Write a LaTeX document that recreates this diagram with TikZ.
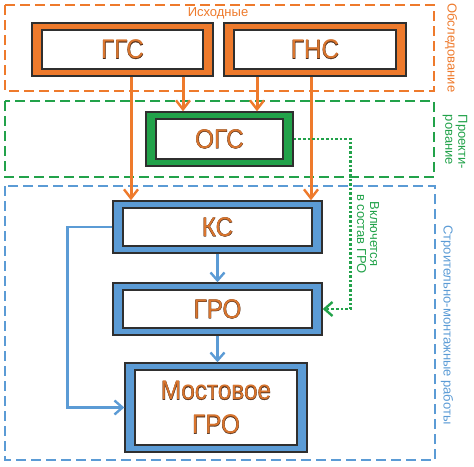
\documentclass[tikz,border=0pt]{standalone}
\usepackage{fontspec}
\setmainfont{Liberation Sans}
\newfontfamily\bxfont[FakeStretch=0.9]{Liberation Sans}
\newfontfamily\bxfontO[FakeStretch=0.9,FakeBold=1.2]{Liberation Sans}
\usetikzlibrary{arrows.meta,calc}
\definecolor{orng}{HTML}{EE7A2C}
\definecolor{grn}{HTML}{22A24A}
\definecolor{blu}{HTML}{5B9BD5}
\definecolor{dk}{HTML}{2F2F2F}
\definecolor{txtor}{HTML}{D9752E}
\definecolor{txtbr}{HTML}{4A2A18}
\newcommand\boxtxt[1]{\rlap{\bxfontO\color{txtbr}#1}{\bxfont\color{txtor}#1}}
\tikzset{
  bigbox/.style={draw=dk, line width=1.4pt, fill=#1, inner sep=0pt, align=center,
    font=\fontsize{27}{34}\selectfont,
    path picture={\draw[dk, line width=1.1pt, fill=white]
      ([shift={(10pt,-7pt)}]path picture bounding box.north west) rectangle
      ([shift={(-10pt,7pt)}]path picture bounding box.south east);}},
  frame/.style={draw=#1, line width=1.4pt, dash pattern=on 10pt off 5pt},
  lbl/.style={inner sep=0pt, font=\fontsize{13}{13}\selectfont},
  oarr/.style={draw=orng, line width=3pt, -{Straight Barb[length=9pt,width=14pt,line width=2.4pt]}},
  barr/.style={draw=blu, line width=2.6pt, -{Straight Barb[length=8pt,width=14pt,line width=2.4pt]}},
  garr/.style={draw=grn, line width=2.6pt, dash pattern=on 2.6pt off 2pt, -{Straight Barb[length=8pt,width=14pt,line width=2.4pt]}},
}
\begin{document}
\begin{tikzpicture}[x=1pt,y=-1pt]
\useasboundingbox (0,0) rectangle (474,466);
% frames
\draw[frame=orng] (5,5) rectangle (434,91);
\draw[frame=grn] (5,101) rectangle (434,177);
\draw[frame=blu] (5,186) rectangle (435,460);
% boxes
\node[bigbox=orng, minimum width=181pt, minimum height=53pt] (ggs) at (122.5,49.5) {\boxtxt{ГГС}};
\node[bigbox=orng, minimum width=182pt, minimum height=53pt] (gns) at (315,49.5) {\boxtxt{ГНС}};
\node[bigbox=grn, minimum width=147pt, minimum height=54pt] (ogs) at (219.5,139) {\boxtxt{ОГС}};
\node[bigbox=blu, minimum width=209pt, minimum height=52pt] (ks) at (217.5,227) {\boxtxt{КС}};
\node[bigbox=blu, minimum width=209pt, minimum height=52pt] (gro) at (217.5,309) {\boxtxt{ГРО}};
\node[bigbox=blu, minimum width=182pt, minimum height=89pt] (most) at (216,407.5) {\boxtxt{Мостовое}\\\boxtxt{ГРО}};
% labels
\node[lbl, text=orng] (isx) at (218,13) {Исходные};
\node[lbl, text=orng, rotate=-90] (obs) at (451,48) {Обследование};
\node[lbl, text=grn, rotate=-90, align=left] (proj) at (455,142) {Проекти-\\рование};
\node[lbl, text=blu, rotate=-90] (smr) at (447,325) {Строительно-монтажные работы};
\node[lbl, text=grn, rotate=-90, align=center] (vkl) at (368,234) {Включется\\в состав ГРО};
% orange arrows
\draw[oarr] ([xshift=8.5pt]ggs.south) -- ([xshift=8.5pt]ggs.south |- ks.north);
\draw[oarr] ([xshift=60.5pt]ggs.south) -- ([xshift=60.5pt]ggs.south |- ogs.north);
\draw[oarr] ([xshift=-58pt]gns.south) -- ([xshift=-58pt]gns.south |- ogs.north);
\draw[oarr] ([xshift=-4pt]gns.south) -- ([xshift=-4pt]gns.south |- ks.north);
% blue arrows
\draw[barr] (ks.south) -- (gro.north);
\draw[barr] (gro.south) -- (gro.south |- most.north);
\draw[barr] (ks.west) -- ++(-45,0) |- (most.west);
% green dotted
\draw[garr] (ogs.east) -- ++(57,0) |- (gro.east);
\end{tikzpicture}
\end{document}
